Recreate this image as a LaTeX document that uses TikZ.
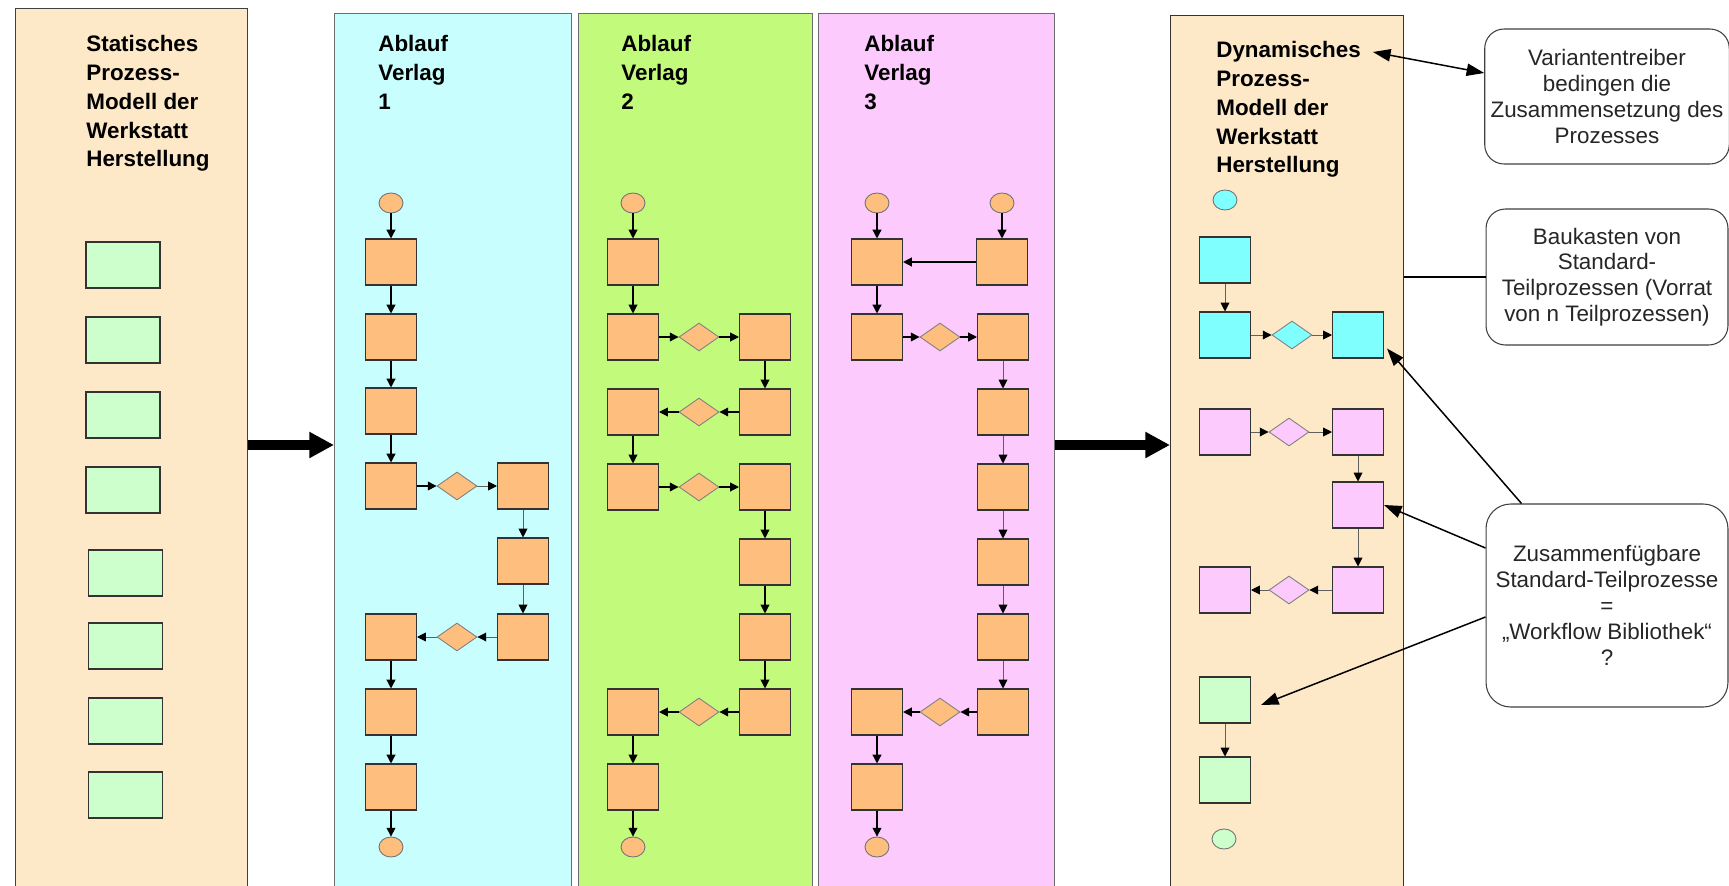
\documentclass[tikz,border=0pt]{standalone}
\usepackage{fontspec}
\setmainfont{Liberation Sans}
\usetikzlibrary{shapes,shapes.geometric,arrows.meta}

\definecolor{peach}{RGB}{253,233,200}
\definecolor{lcyan}{RGB}{200,254,254}
\definecolor{lime}{RGB}{194,251,124}
\definecolor{lpink}{RGB}{252,202,252}
\definecolor{orng}{RGB}{254,190,126}
\definecolor{cyanbox}{RGB}{128,255,255}
\definecolor{pinkbox}{RGB}{253,202,253}
\definecolor{mint}{RGB}{204,255,204}

\tikzset{
  lane/.style={draw=gray!85!black, line width=0.8pt, anchor=north west, inner sep=0, minimum height=17.8cm},
  box/.style={draw=black!80, line width=0.6pt, minimum width=1.02cm, minimum height=0.92cm, inner sep=0},
  gate/.style={diamond, draw=black!50, line width=0.5pt, minimum width=0.8cm, minimum height=0.56cm, inner sep=0},
  ev/.style={ellipse, draw=black!55, line width=0.5pt, minimum width=0.48cm, minimum height=0.4cm, inner sep=0},
  flow/.style={-{Triangle[length=5pt,width=5pt]}, line width=0.75pt},
  flowthin/.style={-{Triangle[length=5pt,width=5pt,color=black]}, line width=0.5pt, draw=gray!75!black},
  ttl/.style={anchor=north west, inner sep=0, align=left, font=\fontsize{12.75}{16.4}\selectfont\bfseries},
  note/.style={draw=black!75, rounded corners=11pt, line width=0.6pt, align=center, minimum width=4.84cm,
    text=black!85, font=\fontsize{12.75}{14.7}\selectfont},
  big/.style={line width=5.7pt, -{Triangle[length=14pt,width=14pt]}},
  pin/.style={line width=0.85pt, -{Triangle[length=10pt,width=7pt]}}
}

\begin{document}
\begin{tikzpicture}[x=0.02cm, y=-0.02cm]
\path[use as bounding box, fill=white] (0,0) rectangle (1729,886);

% lanes
\node[lane, fill=peach, draw=black!75, minimum width=4.64cm] (stat) at (15,8) {};
\node[lane, fill=lcyan, minimum width=4.74cm] (v1) at (334,13) {};
\node[lane, fill=lime, minimum width=4.68cm] (v2) at (578,13) {};
\node[lane, fill=lpink, minimum width=4.72cm] (v3) at (818,13) {};
\node[lane, fill=peach, draw=black!80, minimum width=4.66cm] (dynp) at (1170,15) {};

\node[ttl] (tstat) at (86,35) {Statisches\\Prozess-\\Modell der\\Werkstatt\\Herstellung};
\node[ttl] (t1) at (378,35) {Ablauf\\Verlag\\1};
\node[ttl] (t2) at (621,35) {Ablauf\\Verlag\\2};
\node[ttl] (t3) at (864,35) {Ablauf\\Verlag\\3};
\node[ttl] (dyn) at (1216,41) {Dynamisches\\Prozess-\\Modell der\\Werkstatt\\Herstellung};

% static blocks
\foreach \x/\y [count=\i] in {123/265,123/340,123/415,123/490,125.5/573,125.5/646,125.5/721,125.5/795}
  \node[box, fill=mint, minimum width=1.48cm] (s\i) at (\x,\y) {};

\coordinate (mid) at (0,445);
\draw[big] (stat.east |- mid) -- (v1.west |- mid);
\draw[big] (v3.east |- mid) -- (dynp.west |- mid);

% Verlag 1
\node[ev, fill=orng] (a1s) at (391,203) {};
\node[box, fill=orng] (a1a) at (391,262) {};
\node[box, fill=orng] (a1b) at (391,337) {};
\node[box, fill=orng] (a1c) at (391,411) {};
\node[box, fill=orng] (a1d) at (391,486) {};
\node[gate, fill=orng] (a1x) at (457,486) {};
\node[box, fill=orng] (a1e) at (523,486) {};
\node[box, fill=orng] (a1f) at (523,561) {};
\node[box, fill=orng] (a1g) at (523,637) {};
\node[gate, fill=orng] (a1y) at (457,637) {};
\node[box, fill=orng] (a1h) at (391,637) {};
\node[box, fill=orng] (a1i) at (391,712) {};
\node[box, fill=orng] (a1j) at (391,787) {};
\node[ev, fill=orng] (a1z) at (391,847) {};
\foreach \a/\b in {a1s/a1a,a1a/a1b,a1b/a1c,a1c/a1d,a1d/a1x,a1h/a1i,a1i/a1j,a1j/a1z}
  \draw[flow] (\a) -- (\b);
\foreach \a/\b in {a1x/a1e,a1e/a1f,a1f/a1g,a1g/a1y,a1y/a1h}
  \draw[flowthin] (\a) -- (\b);

% Verlag 2
\node[ev, fill=orng] (a2s) at (633,203) {};
\node[box, fill=orng] (a2a) at (633,262) {};
\node[box, fill=orng] (a2b) at (633,337) {};
\node[gate, fill=orng] (a2x) at (699,337) {};
\node[box, fill=orng] (a2c) at (765,337) {};
\node[box, fill=orng] (a2d) at (765,412) {};
\node[gate, fill=orng] (a2y) at (699,412) {};
\node[box, fill=orng] (a2e) at (633,412) {};
\node[box, fill=orng] (a2f) at (633,487) {};
\node[gate, fill=orng] (a2w) at (699,487) {};
\node[box, fill=orng] (a2g) at (765,487) {};
\node[box, fill=orng] (a2h) at (765,562) {};
\node[box, fill=orng] (a2i) at (765,637) {};
\node[box, fill=orng] (a2j) at (765,712) {};
\node[gate, fill=orng] (a2v) at (699,712) {};
\node[box, fill=orng] (a2k) at (633,712) {};
\node[box, fill=orng] (a2l) at (633,787) {};
\node[ev, fill=orng] (a2z) at (633,847) {};
\foreach \a/\b in {a2s/a2a,a2a/a2b,a2b/a2x,a2x/a2c,a2c/a2d,a2d/a2y,a2y/a2e,a2e/a2f,a2f/a2w,a2w/a2g,
  a2g/a2h,a2h/a2i,a2i/a2j,a2j/a2v,a2v/a2k,a2k/a2l,a2l/a2z}
  \draw[flow, line width=0.6pt] (\a) -- (\b);

% Verlag 3
\node[ev, fill=orng] (a3s) at (877,203) {};
\node[ev, fill=orng] (a3t) at (1002,203) {};
\node[box, fill=orng] (a3a) at (877,262) {};
\node[box, fill=orng] (a3b) at (1002,262) {};
\node[box, fill=orng] (a3c) at (877,337) {};
\node[gate, fill=orng] (a3x) at (940,337) {};
\node[box, fill=orng] (a3d) at (1003,337) {};
\node[box, fill=orng] (a3e) at (1003,412) {};
\node[box, fill=orng] (a3f) at (1003,487) {};
\node[box, fill=orng] (a3g) at (1003,562) {};
\node[box, fill=orng] (a3h) at (1003,637) {};
\node[box, fill=orng] (a3i) at (1003,712) {};
\node[gate, fill=orng] (a3y) at (940,712) {};
\node[box, fill=orng] (a3j) at (877,712) {};
\node[box, fill=orng] (a3k) at (877,787) {};
\node[ev, fill=orng] (a3z) at (877,847) {};
\foreach \a/\b in {a3s/a3a,a3t/a3b,a3b/a3a,a3a/a3c,a3c/a3x,a3x/a3d,a3i/a3y,a3y/a3j,a3j/a3k,a3k/a3z}
  \draw[flow] (\a) -- (\b);
\foreach \a/\b in {a3d/a3e,a3e/a3f,a3f/a3g,a3g/a3h,a3h/a3i}
  \draw[flowthin] (\a) -- (\b);

% dynamic model
\node[ev, fill=cyanbox] (d0) at (1225,200) {};
\node[box, fill=cyanbox] (d1) at (1225,260) {};
\node[box, fill=cyanbox] (d2) at (1225,335) {};
\node[gate, fill=cyanbox] (dx) at (1292,335) {};
\node[box, fill=cyanbox] (d3) at (1358,335) {};
\node[box, fill=pinkbox] (e1) at (1225,432) {};
\node[gate, fill=pinkbox] (ex) at (1289,432) {};
\node[box, fill=pinkbox] (e2) at (1358,432) {};
\node[box, fill=pinkbox] (e3) at (1358,505) {};
\node[box, fill=pinkbox] (e4) at (1358,590) {};
\node[gate, fill=pinkbox] (ey) at (1289,590) {};
\node[box, fill=pinkbox] (e5) at (1225,590) {};
\node[box, fill=mint] (f1) at (1225,700) {};
\node[box, fill=mint] (f2) at (1225,780) {};
\node[ev, fill=mint] (f0) at (1224,839) {};
\foreach \a/\b in {d1/d2,d2/dx,dx/d3,e1/ex,ex/e2,e2/e3,e3/e4,e4/ey,ey/e5,f1/f2}
  \draw[flowthin] (\a) -- (\b);

% notes
\node[note, minimum height=2.7cm] (n1) at (1607,96.5) {Variantentreiber\\bedingen die\\Zusammensetzung des\\Prozesses};
\node[note, minimum height=2.72cm] (n2) at (1607,277) {Baukasten von\\Standard-\\Teilprozessen (Vorrat\\von n Teilprozessen)};
\node[note, minimum height=4.06cm, rounded corners=14pt] (n3) at (1607,605.5) {Zusammenfügbare\\Standard-Teilprozesse\\=\\„Workflow Bibliothek“\\?};

\draw[pin, {Triangle[length=10pt,width=7pt]}-{Triangle[length=10pt,width=7pt]}]
  ([xshift=3.14cm,yshift=-0.22cm]dyn.north west) -- ([yshift=0.47cm]n1.west);
\draw[line width=0.7pt] (dynp.east |- n2.west) -- (n2.west);
\draw[pin] ([xshift=0.72cm]n3.north west) -- ([xshift=0.06cm,yshift=0.2cm]d3.south east);
\draw[pin] ([yshift=1.15cm]n3.west) -- (e3.east);
\draw[pin] ([yshift=-0.23cm]n3.west) -- ([xshift=0.2cm,yshift=-0.1cm]f1.east);
\end{tikzpicture}
\end{document}
